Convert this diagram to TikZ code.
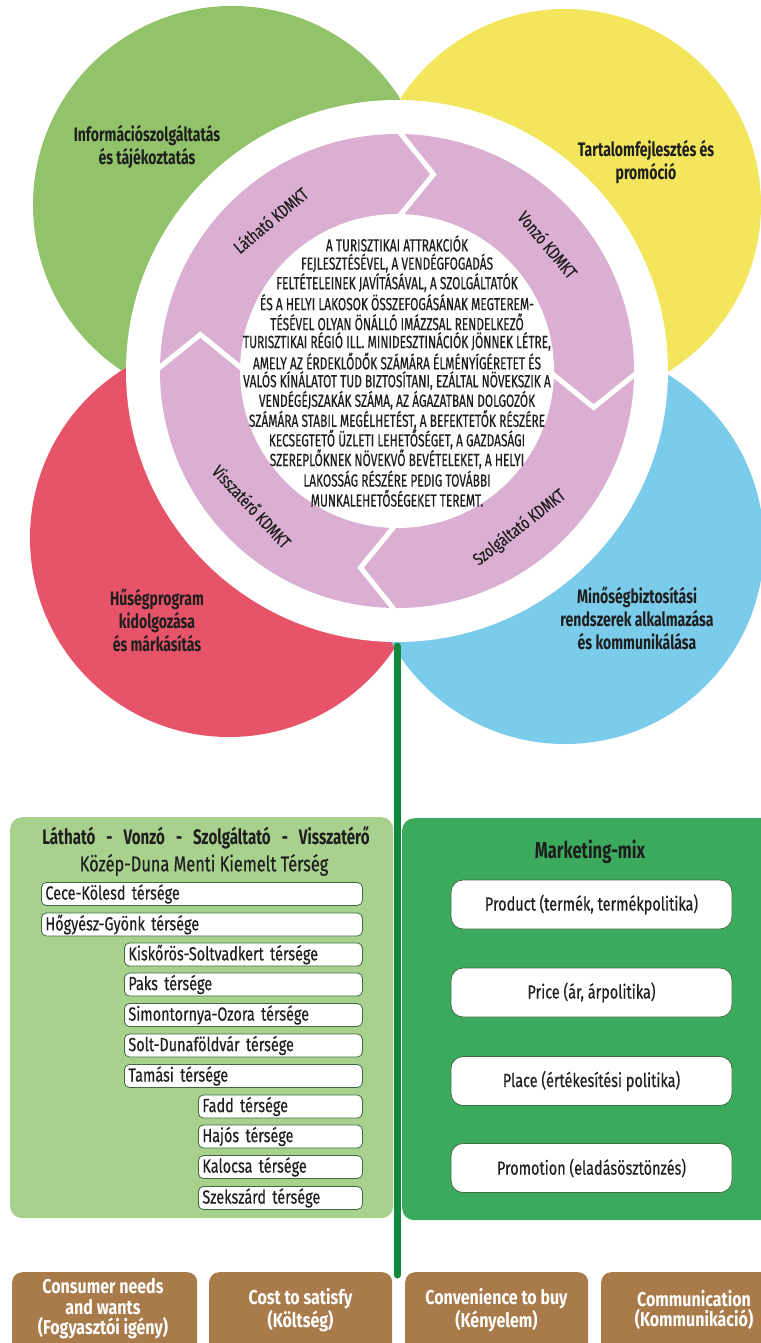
\documentclass[tikz,border=0pt]{standalone}
\usepackage{fontspec}
\setmainfont{Fira Sans}[FakeStretch=0.76]
\newfontfamily\lblfont{Fira Sans}[FakeStretch=0.72]
\newfontfamily\wfont{Fira Sans}[FakeStretch=0.8]
\newfontfamily\medfont{Fira Sans}[FakeStretch=0.76, FakeBold=0.35]
\newfontfamily\corefont{Fira Sans}[FakeStretch=0.68, FakeBold=0.4]
\usetikzlibrary{calc}
\definecolor{cgreen}{HTML}{92C36A}
\definecolor{cyellow}{HTML}{F3E65C}
\definecolor{cred}{HTML}{E75469}
\definecolor{cblue}{HTML}{7BCBEA}
\definecolor{cpink}{HTML}{DAAFD1}
\definecolor{clpanel}{HTML}{A9D18E}
\definecolor{crpanel}{HTML}{3BAA5C}
\definecolor{cvline}{HTML}{12893D}
\definecolor{cbrown}{HTML}{A97A4A}
\definecolor{cink}{HTML}{1E1E1E}
\definecolor{cboxline}{HTML}{3D6B40}
\tikzset{
  blob/.style={circle, inner sep=0pt, draw=none},
  clabel/.style={align=center, font=\lblfont\bfseries\fontsize{19.5}{23}\selectfont, text=cink},
  ringlabel/.style={font=\medfont\fontsize{17.5}{19}\selectfont, text=cink},
  coreline/.style={font=\corefont\fontsize{17.5}{19.6}\selectfont, text=cink, inner sep=0pt},
  chev/.style={white, line width=5pt, line join=miter},
  regbox/.style={draw=cboxline, line width=0.8pt, fill=white, rounded corners=5pt, anchor=west,
    minimum height=23pt, inner xsep=4pt, inner ysep=0pt, align=left,
    font=\medfont\fontsize{19}{21}\selectfont, text=cink},
  mbox/.style={draw=cboxline, line width=0.8pt, fill=white, rounded corners=12pt,
    minimum width=281pt, minimum height=49pt, font=\medfont\fontsize{19}{21}\selectfont, text=cink},
  bbox/.style={fill=cbrown, rounded corners=10pt, anchor=north west, minimum height=90pt, inner sep=0pt},
  btext/.style={align=center, text=white, font=\wfont\bfseries\fontsize{20}{20.5}\selectfont},
  paneltitle/.style={font=\lblfont\bfseries\fontsize{21}{24}\selectfont, text=cink},
  panelsub/.style={font=\medfont\fontsize{21.5}{24}\selectfont, text=cink},
  stemline/.style={draw=cvline, line width=7pt, line cap=round}
}
\begin{document}
\begin{tikzpicture}[x=1pt,y=-1pt]
\useasboundingbox[fill=white] (0,0) rectangle (760,1343);

% four circles
\node[blob, fill=cgreen, minimum size=398pt] (cgr) at (232,205) {};
\node[blob, fill=cyellow, minimum size=392pt] (cye) at (565,205) {};
\node[blob, fill=cred, minimum size=398pt] (cre) at (229,538) {};
\node[blob, fill=cblue, minimum size=398pt] (cbl) at (565,545) {};

% white ring, pink ring, inner disk
\node[blob, fill=white, minimum size=542pt] (wring) at (397,371) {};
\node[blob, fill=cpink, minimum size=474pt] (pring) at (397,371) {};
\node[blob, fill=white, minimum size=314pt] (core) at (397,371) {};

% chevron separators and ring labels
\begin{scope}[shift={(397,371)}]
  \foreach \b in {90,0,-90,180}{
    \draw[chev] (\b:242pt) -- (\b-10.5:200pt) -- (\b:152pt);
  }
  \node[ringlabel, rotate=40] (lLat) at (130:197pt) {Látható KDMKT};
  \node[ringlabel, rotate=-50] (lVon) at (40:197pt) {Vonzó KDMKT};
  \node[ringlabel, rotate=38] (lSzo) at (-52:199pt) {Szolgáltató KDMKT};
  \node[ringlabel, rotate=-47] (lVis) at (-137:198pt) {Visszatérő KDMKT};
\end{scope}

% central text, one node per line
\foreach \t [count=\i] in {
  {A TURISZTIKAI ATTRAKCIÓK},
  {FEJLESZTÉSÉVEL, A VENDÉGFOGADÁS},
  {FELTÉTELEINEK JAVÍTÁSÁVAL, A SZOLGÁLTATÓK},
  {ÉS A HELYI LAKOSOK ÖSSZEFOGÁSÁNAK MEGTEREM-},
  {TÉSÉVEL OLYAN ÖNÁLLÓ IMÁZZSAL RENDELKEZŐ},
  {TURISZTIKAI RÉGIÓ ILL. MINIDESZTINÁCIÓK JÖNNEK LÉTRE,},
  {AMELY AZ ÉRDEKLŐDŐK SZÁMÁRA ÉLMÉNYÍGÉRETET ÉS},
  {VALÓS KÍNÁLATOT TUD BIZTOSÍTANI, EZÁLTAL NÖVEKSZIK A},
  {VENDÉGÉJSZAKÁK SZÁMA, AZ ÁGAZATBAN DOLGOZÓK},
  {SZÁMÁRA STABIL MEGÉLHETÉST, A BEFEKTETŐK RÉSZÉRE},
  {KECSEGTETŐ ÜZLETI LEHETŐSÉGET, A GAZDASÁGI},
  {SZEREPLŐKNEK NÖVEKVŐ BEVÉTELEKET, A HELYI},
  {LAKOSSÁG RÉSZÉRE PEDIG TOVÁBBI},
  {MUNKALEHETŐSÉGEKET TEREMT.}}{
  \node[coreline] (core\i) at (397,{243.5+19.6*(\i-1)}) {\t};
}

% circle labels
\node[clabel] (tgr) at (147,147) {Információszolgáltatás\\és tájékoztatás};
\node[clabel] (tye) at (646,162) {Tartalomfejlesztés és\\promóció};
\node[clabel] (tre) at (157,620) {Hűségprogram\\kidolgozása\\és márkásítás};
\node[clabel] (tbl) at (637,618) {Minőségbiztosítási\\rendszerek alkalmazása\\és kommunikálása};

% panels
\node[fill=clpanel, rounded corners=12pt, anchor=north west, minimum width=383pt, minimum height=401pt, inner sep=0pt] (lpan) at (10,817) {};
\node[fill=crpanel, rounded corners=12pt, anchor=north west, minimum width=390pt, minimum height=402pt, inner sep=0pt] (rpan) at (402,818) {};

\node[paneltitle] (ltitle) at (206,838) {Látható\hspace{11pt}-\hspace{11pt}Vonzó\hspace{11pt}-\hspace{11pt}Szolgáltató\hspace{11pt}-\hspace{11pt}Visszatérő};
\node[panelsub] (lsub) at (204,865) {Közép-Duna Menti Kiemelt Térség};

\node[regbox, text width=313pt] (r1) at (41,894) {Cece-Kölesd térsége};
\node[regbox, text width=313pt] (r2) at (41,924.5) {Hőgyész-Gyönk térsége};
\node[regbox, text width=230pt] (r3) at (124,954.5) {Kiskőrös-Soltvadkert térsége};
\node[regbox, text width=230pt] (r4) at (124,984.5) {Paks térsége};
\node[regbox, text width=230pt] (r5) at (124,1015) {Simontornya-Ozora térsége};
\node[regbox, text width=230pt] (r6) at (124,1045.5) {Solt-Dunaföldvár térsége};
\node[regbox, text width=230pt] (r7) at (124,1076) {Tamási térsége};
\node[regbox, text width=156pt] (r8) at (198,1106.5) {Fadd térsége};
\node[regbox, text width=156pt] (r9) at (198,1136.5) {Hajós térsége};
\node[regbox, text width=156pt] (r10) at (198,1167) {Kalocsa térsége};
\node[regbox, text width=156pt] (r11) at (198,1198) {Szekszárd térsége};

\node[paneltitle, font=\lblfont\bfseries\fontsize{23}{26}\selectfont] (mtitle) at (590,852) {Marketing-mix};
\node[mbox] (m1) at (591.5,904.5) {Product (termék, termékpolitika)};
\node[mbox] (m2) at (591.5,992.5) {Price (ár, árpolitika)};
\node[mbox] (m3) at (591.5,1081) {Place (értékesítési politika)};
\node[mbox] (m4) at (591.5,1168) {Promotion (eladásösztönzés)};

% stem
\coordinate (stemend) at (397,1275);
\draw[stemline] ([yshift=-4pt]wring.south) -- (stemend);

% brown boxes
\node[bbox, minimum width=185pt] (b1) at (12,1272) {};
\node[bbox, minimum width=183pt] (b2) at (209,1272) {};
\node[bbox, minimum width=183pt] (b3) at (405,1272) {};
\node[bbox, minimum width=186pt] (b4) at (601,1272) {};
\node[btext] (bt1) at (103,1309) {Consumer needs\\and wants\\(Fogyasztói igény)};
\node[btext] (bt2) at (300.5,1310) {Cost to satisfy\\(Költség)};
\node[btext] (bt3) at (496.5,1310) {Convenience to buy\\(Kényelem)};
\node[btext] (bt4) at (694,1310) {Communication\\(Kommunikáció)};
\end{tikzpicture}
\end{document}
